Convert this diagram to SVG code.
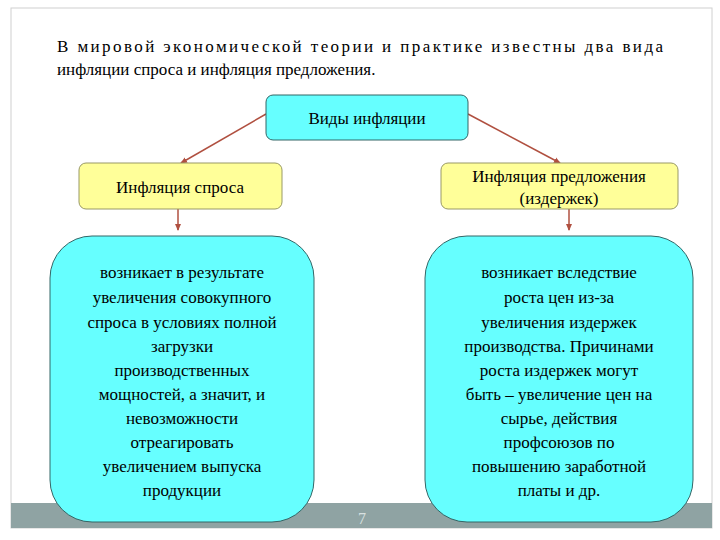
<svg xmlns="http://www.w3.org/2000/svg" width="720" height="540" viewBox="0 0 720 540">
<style>
text{font-family:"Liberation Serif","Times New Roman",serif;font-size:17px;fill:#000}
.c{text-anchor:middle}
.cy{fill:#66ffff;stroke:#336666;stroke-width:1}
.ye{fill:#ffff99;stroke:#999966;stroke-width:1}
.ln{stroke:#b05040;stroke-width:1.5;fill:none;marker-end:url(#a)}
</style>
<defs><marker id="a" markerWidth="8" markerHeight="8" refX="6" refY="4" orient="auto" markerUnits="userSpaceOnUse"><path d="M0,1 L7,4 L0,7 z" fill="#b05040"/></marker></defs>
<rect x="0" y="0" width="720" height="540" fill="#fff"/>
<rect x="11" y="8" width="701" height="520" fill="none" stroke="#d0d0d0"/>
<rect x="11" y="503" width="701" height="25" fill="#8fa3a3"/>
<text x="362" y="524" class="c" style="fill:#d8e0e0;font-size:16px">7</text>
<text x="57" y="52" textLength="606" lengthAdjust="spacing">В мировой экономической теории и практике известны два вида</text>
<text x="57" y="75">инфляции спроса и инфляция предложения.</text>
<g id="connectors">
<line class="ln" x1="266" y1="114" x2="181" y2="163"/>
<line class="ln" x1="468" y1="114" x2="560" y2="163"/>
<line class="ln" x1="178" y1="209" x2="178" y2="230"/>
<line class="ln" x1="569" y1="209" x2="569" y2="230"/>
</g>
<g id="n-top"><rect class="cy" x="266" y="95" width="202" height="45" rx="7"/><text x="367" y="124" class="c">Виды инфляции</text></g>
<g id="n-left"><rect class="ye" x="79" y="163" width="203" height="46" rx="7"/><text x="180" y="193" class="c">Инфляция спроса</text></g>
<g id="n-right"><rect class="ye" x="441" y="163" width="237" height="46" rx="7"/><text x="559" y="182" class="c">Инфляция предложения</text><text x="559" y="204" class="c">(издержек)</text></g>
<g id="b-left"><rect class="cy" x="50" y="236" width="264" height="286" rx="42"/>
<text class="c" x="182"><tspan x="182" y="278">возникает в результате</tspan><tspan x="182" y="303">увеличения совокупного</tspan><tspan x="182" y="328">спроса в условиях полной</tspan><tspan x="182" y="352">загрузки</tspan><tspan x="182" y="376">производственных</tspan><tspan x="182" y="400">мощностей, а значит, и</tspan><tspan x="182" y="424">невозможности</tspan><tspan x="182" y="448">отреагировать</tspan><tspan x="182" y="472">увеличением выпуска</tspan><tspan x="182" y="496">продукции</tspan></text></g>
<g id="b-right"><rect class="cy" x="425" y="236" width="268" height="286" rx="42"/>
<text class="c" x="559"><tspan x="559" y="278">возникает вследствие</tspan><tspan x="559" y="303">роста цен из-за</tspan><tspan x="559" y="328">увеличения издержек</tspan><tspan x="559" y="352">производства. Причинами</tspan><tspan x="559" y="376">роста издержек могут</tspan><tspan x="559" y="400">быть – увеличение цен на</tspan><tspan x="559" y="424">сырье, действия</tspan><tspan x="559" y="448">профсоюзов по</tspan><tspan x="559" y="472">повышению заработной</tspan><tspan x="559" y="496">платы и др.</tspan></text></g>
</svg>
